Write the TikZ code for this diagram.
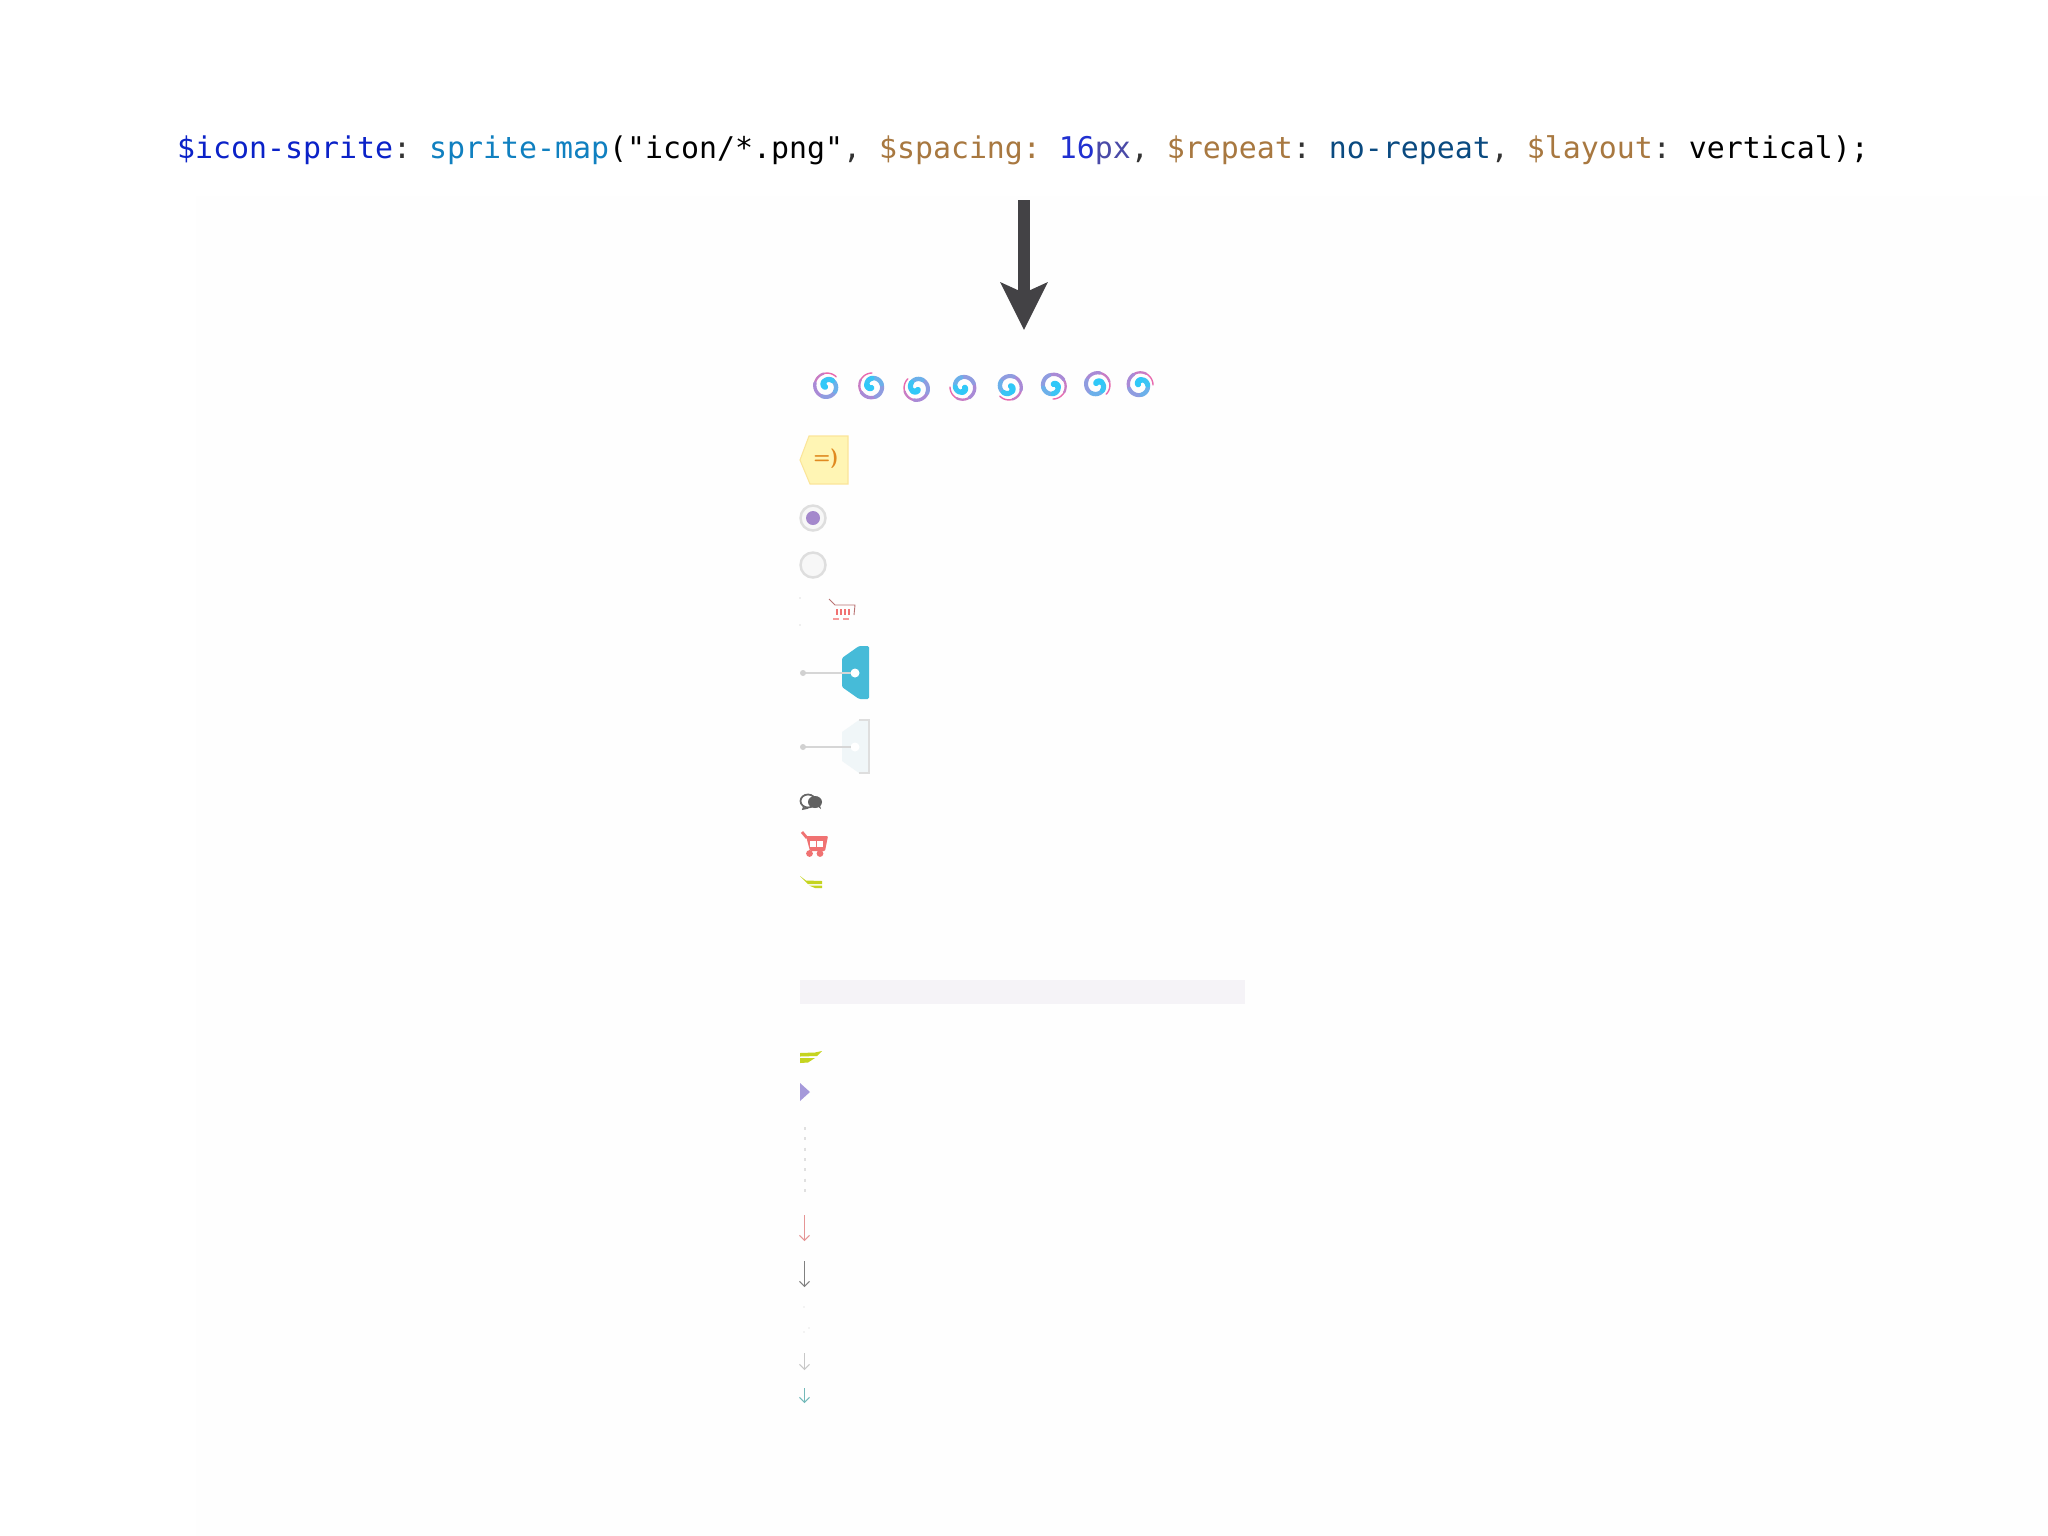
\documentclass[tikz,border=0pt]{standalone}
\usepackage{fontspec}
\setmonofont{DejaVu Sans Mono}
\usetikzlibrary{arrows.meta,positioning}
\definecolor{varblue}{HTML}{0B22C8}
\definecolor{funcblue}{HTML}{1080C0}
\definecolor{argbrown}{HTML}{A87840}
\definecolor{numblue}{HTML}{2030D0}
\definecolor{unitblue}{HTML}{4A4AA8}
\definecolor{kwblue}{HTML}{0A4A80}
\definecolor{punct}{HTML}{333333}
\definecolor{arrowgrey}{HTML}{434245}
\definecolor{tagblue}{HTML}{46BBD8}
\definecolor{tagpale}{HTML}{F0F6F8}
\definecolor{wing}{HTML}{C5D420}
\definecolor{cartred}{HTML}{F07272}
\definecolor{paper}{HTML}{FEFEFE}
\definecolor{notefill}{HTML}{FFF5B4}
\definecolor{noteedge}{HTML}{FBE59A}
\definecolor{smileink}{HTML}{E08A20}
\definecolor{radiopurple}{HTML}{A488CC}
\definecolor{triangle}{HTML}{A599DA}
\definecolor{barfill}{HTML}{F5F3F7}
\tikzset{
  string/.style={draw=#1,line width=0.5pt},
  barb/.style={draw=#1,line width=0.45pt,-{Straight Barb[length=0.5mm,width=1mm,line width=0.3pt]}},
  radio/.style={draw=black!13,fill=black!3,line width=0.7pt},
}
\begin{document}
\begin{tikzpicture}[x=0.01cm,y=-0.01cm]
\useasboundingbox (0,0) rectangle (2048,1536);
\fill[white] (0,0) rectangle (2048,1536);
\fill[paper] (196,196) rectangle (2048,1536);
\node[anchor=base] (code) at (1023,158) {\fontsize{8.5}{10}\ttfamily\color{varblue}\$icon-sprite\color{punct}: \color{funcblue}sprite-map\color{black}("icon/*.png"\color{punct}, \color{argbrown}\$spacing: \color{numblue}16\color{unitblue}px\color{punct}, \color{argbrown}\$repeat\color{punct}: \color{kwblue}no-repeat\color{punct}, \color{argbrown}\$layout\color{punct}: \color{black}vertical);};
\coordinate (arrowtop) at (1024,200);
\coordinate (arrowtip) at (1024,330);
\draw[arrowgrey,line width=0.12cm,-{Stealth[length=0.47cm,width=0.46cm,inset=0.1cm]}] (arrowtop)--(arrowtip);
\foreach \cx/\cy/\rot in {827/386/45,872/386/90,917/388/135,963/387/180,1009/387/225,1053/386/270,1097/385/315,1140/385/360}{
\begin{scope}[shift={(\cx,\cy)}]
\foreach \ta/\tb/\col/\wid in {0/60/E86AAE/0.4,60/120/C87CC4/0.65,120/200/A98AD6/0.95,200/280/8F9CE0/1.15,280/360/6CB0EA/1.25,360/440/3CC4F4/1.45,440/520/30C8F8/1.7}{
\definecolor{swirl}{HTML}{\col}
\draw[swirl,line width=\wid pt,line cap=round] plot[smooth,domain=\ta:\tb,samples=7,variable=\t] ({(2+11*(1-(\t/520)^2))*cos(\t+\rot)},{-(2+11*(1-(\t/520)^2))*sin(\t+\rot)});
}
\end{scope}
}
\filldraw[fill=notefill,draw=noteedge,line width=0.3pt] (809,436)--(848,436)--(848,484)--(810,484)--(800,460)--cycle;
\node[text=smileink] (smile) at (826,459) {\fontsize{5.5}{6}\sffamily\bfseries =)};
\filldraw[radio] (813,518) circle[radius=12.5];
\fill[radiopurple] (813,518) circle[radius=7];
\filldraw[radio] (813,565) circle[radius=12.5];
\fill[black!25] (800,598) circle[radius=0.6];
\fill[black!25] (800,625) circle[radius=0.6];
\draw[cartred!70!black!80,line width=0.25pt] (829,599)--(835,605)--(855,605)--(854,615);
\foreach \bx in {837,841,845,849}{
\draw[cartred,line width=0.6pt] (\bx,609)--++(0,6);
}
\draw[cartred!70,line width=0.4pt] (833,619)--++(6,0);
\draw[cartred!70,line width=0.4pt] (843,619)--++(6,0);
\fill[tagblue,rounded corners=0.4pt] (842,658)--(859,646)--(869,646)--(869,699)--(859,699)--(842,687)--cycle;
\fill[white] (855,673) circle[radius=4.5];
\draw[string=black!16] (803,673)--(851,673);
\fill[black!18] (803,673) circle[radius=3];
\fill[tagpale] (842,732)--(859,720)--(869,720)--(869,773)--(859,773)--(842,761)--cycle;
\draw[black!13,line width=0.4pt] (859,720)--(869,720)--(869,773)--(859,773);
\fill[white] (855,747) circle[radius=4.5];
\draw[string=black!16] (803,747)--(851,747);
\fill[black!18] (803,747) circle[radius=3];
\draw[black!60,line width=0.5pt] (808,801) ellipse[x radius=7.5,y radius=6.5];
\draw[black!60,line width=0.45pt] (804,806)--(803,809)--(808,808);
\fill[black!62] (815,802) ellipse[x radius=7,y radius=6];
\fill[black!62] (816,805)--(821,809)--(819,802)--cycle;
\draw[cartred,line width=0.8pt] (802,832)--(807,838);
\fill[cartred,rounded corners=0.3pt] (806,836)--(828,836)--(825,851)--(810,851)--cycle;
\foreach \bx in {810,813.4,816.8,820.2}{
\fill[white] (\bx,841) rectangle ++(2.7,6);
}
\fill[cartred] (809.5,853.5) circle[radius=3.4];
\fill[cartred] (820,853.5) circle[radius=3.4];
\fill[wing] (800,876)--(806,880.5)--(822,881)--(822,884)--(808,884)--cycle;
\fill[wing] (809,885.5)--(822,885.5)--(822,888)--(815,888)--cycle;
\fill[barfill] (800,980) rectangle (1245,1004);
\fill[wing] (800,1053)--(815,1052.5)--(822,1051)--(817,1056)--(800,1056.5)--cycle;
\fill[wing] (800,1058)--(815,1058)--(808,1062.5)--(800,1063)--cycle;
\fill[triangle] (800,1083)--(810,1092)--(800,1101)--cycle;
\foreach \dy in {1127,1137.3,1147.6,1158,1168.3,1178.6,1189}{
\draw[black!12,line width=0.3pt] (805,\dy)--++(0,3);
}
\coordinate (redtop) at (804.5,1215);
\coordinate (redtip) at (804.5,1241);
\coordinate (greytop) at (804.5,1261);
\coordinate (greytip) at (804.5,1287);
\coordinate (paletop) at (804.5,1353);
\coordinate (paletip) at (804.5,1370);
\coordinate (tealtop) at (804.5,1388);
\coordinate (tealtip) at (804.5,1403);
\draw[barb=red!35!white!90!black] (redtop)--(redtip);
\draw[barb=black!50] (greytop)--(greytip);
\draw[barb=black!22] (paletop)--(paletip);
\draw[barb=teal!55] (tealtop)--(tealtip);
\fill[black!18] (804,1307) circle[radius=0.6];
\fill[black!18] (804,1332) circle[radius=0.6];
\fill[black!18] (809,1328) circle[radius=0.6];
\end{tikzpicture}
\end{document}
